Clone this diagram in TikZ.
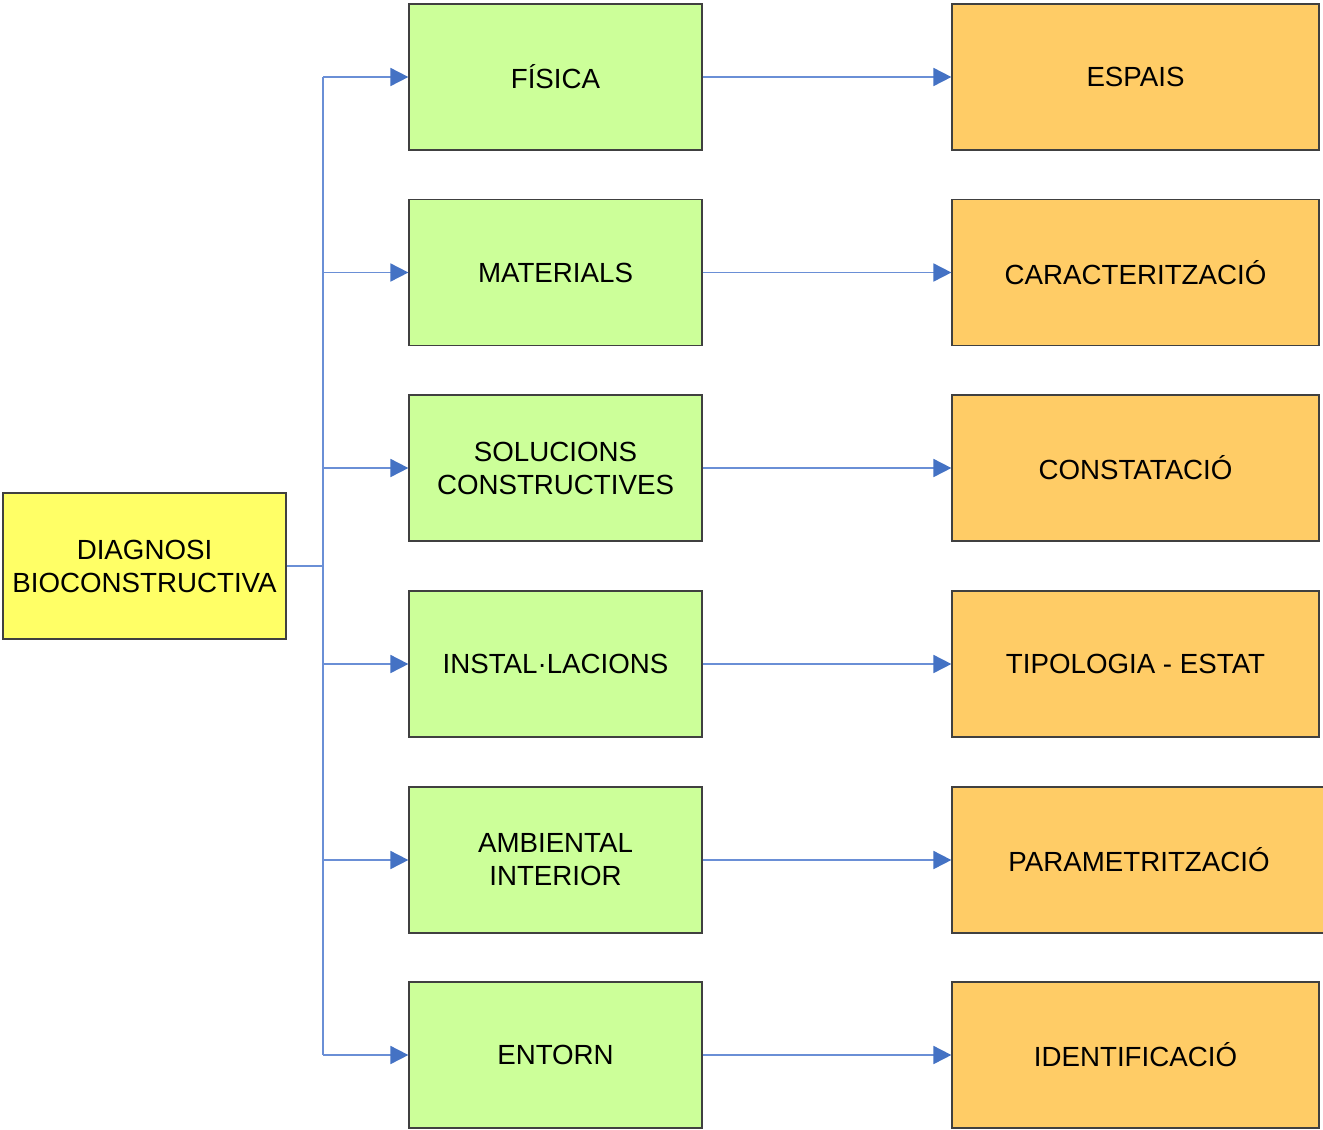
\documentclass[tikz,border=0pt]{standalone}
\usepackage{fontspec}
\setmainfont{Liberation Sans}
\usetikzlibrary{arrows.meta,calc}
\definecolor{yelbox}{HTML}{FFFF66}
\definecolor{grnbox}{HTML}{CCFF99}
\definecolor{orgbox}{HTML}{FFCC66}
\definecolor{linblue}{HTML}{6A8FD6}
\definecolor{tipblue}{HTML}{4472C4}
\definecolor{edge}{HTML}{404040}
\begin{document}
\begin{tikzpicture}[x=1pt,y=-1pt,
  box/.style={draw=edge,line width=1.2pt,inner sep=0pt,align=center,
    font=\fontsize{27.7}{33}\selectfont},
  ybox/.style={box,fill=yelbox,minimum width=283pt,minimum height=146pt},
  gbox/.style={box,fill=grnbox,minimum width=293pt,minimum height=146pt},
  obox/.style={box,fill=orgbox,minimum width=367pt,minimum height=146pt},
  conn/.style={draw=linblue,line width=1.8pt},
  arr/.style={conn,-{Triangle[length=18pt,width=18pt,color=tipblue]}}]
\useasboundingbox (0,0) rectangle (1323,1130);
\fill[white] (0,0) rectangle (1323,1130);
\node[ybox] (L) at (144.5,566) {DIAGNOSI\\BIOCONSTRUCTIVA};
\node[gbox] (g1) at (555.5,77) {FÍSICA};
\node[gbox] (g2) at (555.5,272.5) {MATERIALS};
\node[gbox] (g3) at (555.5,468) {SOLUCIONS\\CONSTRUCTIVES};
\node[gbox] (g4) at (555.5,664) {INSTAL·LACIONS};
\node[gbox] (g5) at (555.5,860) {AMBIENTAL\\INTERIOR};
\node[gbox] (g6) at (555.5,1055) {ENTORN};
\node[obox] (o1) at (1135.5,77) {ESPAIS};
\node[obox] (o2) at (1135.5,272.5) {CARACTERITZACIÓ};
\node[obox] (o3) at (1135.5,468) {CONSTATACIÓ};
\node[obox] (o4) at (1135.5,664) {TIPOLOGIA - ESTAT};
\node[obox,minimum width=374pt] (o5) at (1139,860) {PARAMETRITZACIÓ};
\node[obox] (o6) at (1135.5,1055) {IDENTIFICACIÓ};
\coordinate (bus) at (323,566);
\draw[conn] (L.east) -- (L.east -| bus);
\draw[conn] (g1.west -| bus) -- (g6.west -| bus);
\foreach \i in {1,...,6} {
  \draw[arr] (g\i.west -| bus) -- (g\i.west);
  \draw[arr] (g\i.east) -- (o\i.west);
}
\end{tikzpicture}
\end{document}
